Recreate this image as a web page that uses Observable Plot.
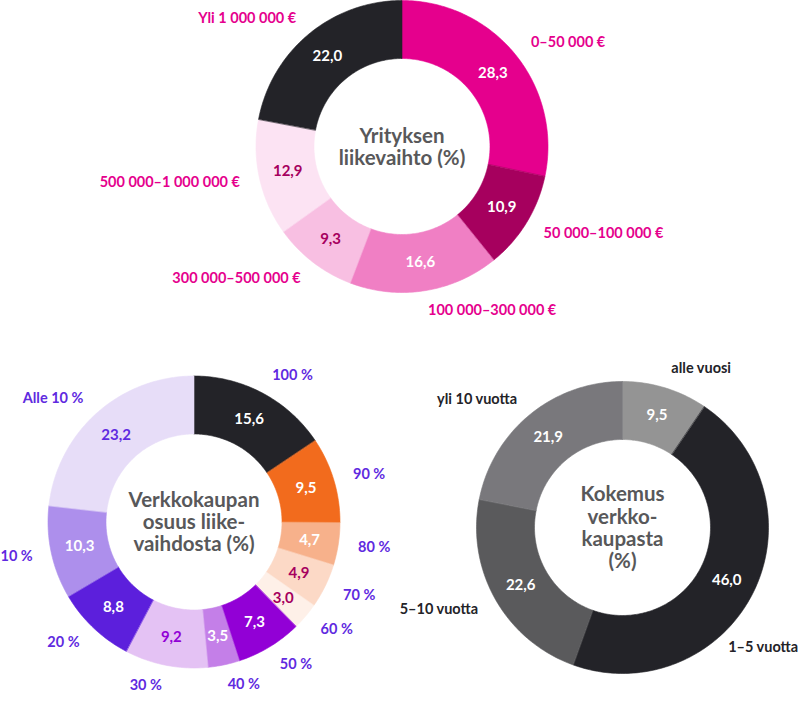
<!DOCTYPE html>
<html><head><meta charset="utf-8">
<script src="https://cdn.jsdelivr.net/npm/d3@7"></script>
<script src="https://cdn.jsdelivr.net/npm/@observablehq/plot@0.6"></script>
<style>
body{margin:0;background:#fff;}
#chart svg{display:block;}
</style>
</head><body><div id="chart"></div>
<script>
// ---- data ----
const revenueLabels = ["0–50 000 €", "50 000–100 000 €", "100 000–300 000 €", "300 000–500 000 €", "500 000–1 000 000 €", "Yli 1 000 000 €"];
const revenueValues = [28.3, 10.9, 16.6, 9.3, 12.9, 22.0];
const shareLabels = ["100 %", "90 %", "80 %", "70 %", "60 %", "50 %", "40 %", "30 %", "20 %", "10 %", "Alle 10 %"];
const shareValues = [15.6, 9.5, 4.7, 4.9, 3.0, 7.3, 3.5, 9.2, 8.8, 10.3, 23.2];
const experienceLabels = ["alle vuosi", "1–5 vuotta", "5–10 vuotta", "yli 10 vuotta"];
const experienceValues = [9.5, 46.0, 22.6, 21.9];
const titles = ["Yrityksen\nliikevaihto (%)", "Verkkokaupan\nosuus liike-\nvaihdosta (%)", "Kokemus\nverkko-\nkaupasta\n(%)"];

// ---- palettes ----
const revenueFills = ["#e5008d", "#a6005e", "#f07fc4", "#f8bfe2", "#fce3f3", "#232328"];
const revenueText  = ["#ffffff", "#ffffff", "#ffffff", "#a6005e", "#a6005e", "#ffffff"];
const shareFills = ["#232328", "#f26b1d", "#f7b18b", "#fcd9c6", "#fef0e8", "#9200d6", "#c47fe8", "#e4c2f4", "#5c1fdc", "#ad8fec", "#e7ddf8"];
const shareText  = ["#ffffff", "#ffffff", "#ffffff", "#a6005e", "#a6005e", "#ffffff", "#ffffff", "#9200d6", "#ffffff", "#ffffff", "#5f2ae0"];
const experienceFills = ["#949494", "#232328", "#5a5a5c", "#79787c"];
const experienceText  = ["#ffffff", "#ffffff", "#ffffff", "#ffffff"];

// ---- layout ----
const W = 800, H = 710;
const R = 146, r0 = 88, rValue = 117, rLabel = 166;
const font = "Lato, 'Open Sans', sans-serif";
const labelSize = 14.5, labelWeight = 700;
const donuts = [
  {labels: revenueLabels, values: revenueValues, fills: revenueFills, text: revenueText, labelFill: "#e5008d", title: titles[0], cx: 401.5, cy: 146},
  {labels: shareLabels, values: shareValues, fills: shareFills, text: shareText, labelFill: "#5f2ae0", title: titles[1], cx: 193.5, cy: 521.5},
  {labels: experienceLabels, values: experienceValues, fills: experienceFills, text: experienceText, labelFill: "#232328", title: titles[2], cx: 622, cy: 527}
];

const ctx = document.createElement("canvas").getContext("2d");
ctx.font = `${labelWeight} ${labelSize}px ${font}`;
const textWidth = s => ctx.measureText(s).width;

const fmt = v => d3.format(".1f")(v).replace(".", ",");
const polys = [], valueLabels = [], outerLabels = [], centerTitles = [];
donuts.forEach((d, di) => {
  const pie = d3.pie().sort(null).value(v => v).startAngle(0).endAngle(2 * Math.PI)(d.values);
  pie.forEach((a, i) => {
    const key = di + "-" + i;
    const n = Math.max(2, Math.ceil((a.endAngle - a.startAngle) / (Math.PI / 180)));
    for (let k = 0; k <= n; k++) {
      const t = a.startAngle + (a.endAngle - a.startAngle) * k / n;
      polys.push({key, x: d.cx + R * Math.sin(t), y: d.cy - R * Math.cos(t), fill: d.fills[i]});
    }
    for (let k = n; k >= 0; k--) {
      const t = a.startAngle + (a.endAngle - a.startAngle) * k / n;
      polys.push({key, x: d.cx + r0 * Math.sin(t), y: d.cy - r0 * Math.cos(t), fill: d.fills[i]});
    }
    const mid = (a.startAngle + a.endAngle) / 2;
    valueLabels.push({x: d.cx + rValue * Math.sin(mid), y: d.cy - rValue * Math.cos(mid), text: fmt(d.values[i]), fill: d.text[i]});

    // outer label: mid-angle, rotated toward the nearest pole if it would leave the canvas
    const w = textWidth(d.labels[i]);
    const place = t => {
      const s = Math.sin(t);
      const anchor = s > 0.1 ? "start" : s < -0.1 ? "end" : "middle";
      const x = d.cx + rLabel * s;
      const left = anchor === "start" ? x : anchor === "end" ? x - w : x - w / 2;
      return {x, y: d.cy - rLabel * Math.cos(t), anchor, left, right: left + w};
    };
    let t = mid, p = place(t);
    const dir = Math.cos(mid) < 0 ? (Math.sin(mid) > 0 ? 1 : -1) : (Math.sin(mid) > 0 ? -1 : 1);
    let guard = 0;
    while ((p.right - W > 8 || -p.left > 8) && guard++ < 90) { t += dir * Math.PI / 180; p = place(t); }
    if (p.right > W - 2) p.x -= p.right - (W - 2);
    if (p.left < 0) p.x -= p.left;
    outerLabels.push({x: p.x, y: p.y, text: d.labels[i], fill: d.labelFill, anchor: p.anchor});
  });
  centerTitles.push({x: d.cx, y: d.cy, text: d.title});
});

const outerText = anchor => Plot.text(outerLabels.filter(l => l.anchor === anchor), {
  x: "x", y: "y", text: "text", fill: "fill", textAnchor: anchor, fontSize: labelSize, fontWeight: labelWeight
});

const chart = Plot.plot({
  width: W, height: H,
  margin: 0,
  x: {domain: [0, W], axis: null},
  y: {domain: [0, H], range: [0, H], axis: null},
  color: {type: "identity"},
  style: {fontFamily: font, background: "#fff"},
  marks: [
    Plot.line(polys, {x: "x", y: "y", z: "key", fill: "fill", stroke: "fill", strokeWidth: 0.6, curve: "linear-closed"}),
    Plot.text(valueLabels, {x: "x", y: "y", text: "text", fill: "fill", fontSize: 15, fontWeight: 700}),
    outerText("start"), outerText("end"), outerText("middle"),
    Plot.text(centerTitles, {x: "x", y: "y", text: "text", fill: "#58585a", fontSize: 20.5, fontWeight: 700, lineHeight: 1.08})
  ]
});
document.getElementById("chart").appendChild(chart);
</script>
</body></html>
